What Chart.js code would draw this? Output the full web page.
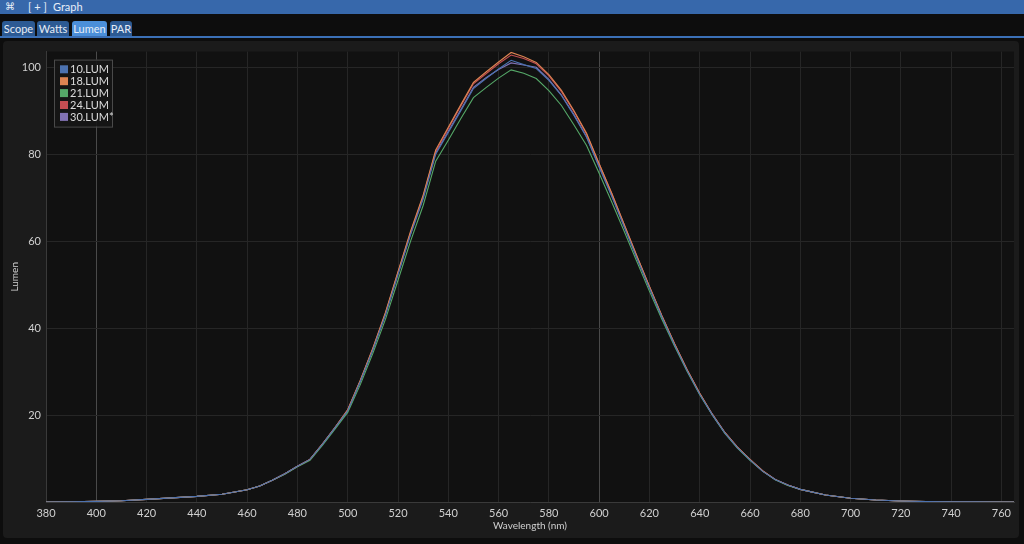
<!DOCTYPE html>
<html>
<head>
<meta charset="utf-8">
<script src="https://cdn.jsdelivr.net/npm/chart.js@4.4.0/dist/chart.umd.min.js"></script>
<style>
  html, body { margin: 0; padding: 0; background: #0d0d0d; width: 1024px; height: 544px; overflow: hidden; font-family: 'Lato', sans-serif; }
  .titlebar { position: absolute; left: 0; top: 0; width: 1024px; height: 14px; background: #3768ab; color: #e8eef8; font-size: 11px; line-height: 14px; }
  .titlebar span { position: absolute; top: 0; }
  .tabs { position: absolute; left: 0; top: 20px; width: 1024px; height: 16px; border-bottom: 2px solid #3b70b6; }
  .tab { position: absolute; top: 1px; height: 15px; line-height: 15px; font-size: 11px; color: #e6ecf5; background: #2c5a93; border-radius: 3px 3px 0 0; text-align: center; }
  .tab.active { background: #4b8fd9; }
  #wrap { position: absolute; left: 0; top: 40px; width: 1024px; height: 504px; }
</style>
</head>
<body>
<div class="titlebar">
  <span style="left:5px;font-family:'DejaVu Sans';font-size:10px">⌘</span>
  <span style="left:28px">[ + ]</span>
  <span style="left:53px">Graph</span>
</div>
<div class="tabs">
  <div class="tab" style="left:2px;width:33px">Scope</div>
  <div class="tab" style="left:37px;width:32px">Watts</div>
  <div class="tab active" style="left:72px;width:35px">Lumen</div>
  <div class="tab" style="left:110px;width:22px">PAR</div>
</div>
<div id="wrap"><canvas id="graph" width="1024" height="504"></canvas></div>
<script>
// wavelengths (nm)
const wavelengths = [380, 390, 400, 410, 420, 430, 440, 450, 460, 465, 470, 475, 480, 485, 490, 495,
  500, 505, 510, 515, 520, 525, 530, 535, 540, 545, 550, 555, 560, 565, 570, 575, 580, 585, 590, 595,
  600, 605, 610, 615, 620, 625, 630, 635, 640, 645, 650, 655, 660, 665, 670, 675, 680, 690, 700, 710,
  720, 730, 740, 750, 760, 765];

const lum10 = [0.0, 0.05, 0.15, 0.3, 0.6, 0.95, 1.3, 1.8, 2.8, 3.7, 5.0, 6.5, 8.2, 9.8, 13.3, 17.1,
  21.0, 27.7, 35.0, 43.0, 52.3, 61.5, 69.7, 80.0, 85.0, 90.0, 95.1, 97.4, 99.6, 101.6, 100.6, 99.7, 97.0, 93.5, 88.9, 83.9,
  77.0, 70.3, 63.2, 56.1, 49.2, 42.5, 36.1, 30.2, 24.8, 20.1, 15.9, 12.5, 9.7, 7.1, 5.2, 3.9, 2.9, 1.6, 0.85, 0.45,
  0.22, 0.1, 0.05, 0.02, 0.0, 0.0];

const lum18 = [0.0, 0.05, 0.15, 0.3, 0.6, 0.95, 1.3, 1.8, 2.8, 3.7, 5.0, 6.5, 8.2, 9.8, 13.4, 17.2,
  21.2, 28.0, 35.4, 43.6, 53.0, 62.3, 70.6, 81.0, 86.2, 91.4, 96.5, 98.9, 101.2, 103.4, 102.4, 101.1, 98.3, 94.7, 90.0, 84.8,
  77.8, 71.0, 63.8, 56.6, 49.6, 42.8, 36.4, 30.4, 25.0, 20.2, 16.0, 12.6, 9.8, 7.2, 5.2, 3.9, 2.9, 1.6, 0.85, 0.45,
  0.22, 0.1, 0.05, 0.02, 0.0, 0.0];

const lum21 = [0.0, 0.05, 0.15, 0.3, 0.6, 0.95, 1.3, 1.8, 2.8, 3.7, 5.0, 6.4, 8.1, 9.6, 13.1, 16.8,
  20.6, 27.0, 34.2, 42.0, 51.0, 60.0, 68.2, 78.4, 83.2, 88.2, 93.0, 95.3, 97.5, 99.4, 98.6, 97.4, 94.6, 91.2, 86.7, 82.0,
  75.6, 69.0, 62.2, 55.3, 48.5, 42.0, 35.8, 30.0, 24.7, 20.0, 15.8, 12.4, 9.6, 7.1, 5.1, 3.8, 2.9, 1.6, 0.85, 0.45,
  0.22, 0.1, 0.05, 0.02, 0.0, 0.0];

const lum24 = [0.0, 0.05, 0.15, 0.3, 0.6, 0.95, 1.3, 1.8, 2.8, 3.7, 5.0, 6.5, 8.2, 9.8, 13.4, 17.2,
  21.2, 27.9, 35.3, 43.4, 52.8, 62.0, 70.3, 80.7, 85.9, 91.1, 96.2, 98.5, 100.8, 102.8, 102.0, 100.8, 98.0, 94.4, 89.8, 84.6,
  77.8, 71.0, 63.8, 56.6, 49.6, 42.8, 36.4, 30.4, 25.0, 20.2, 16.0, 12.6, 9.8, 7.2, 5.2, 3.9, 2.9, 1.6, 0.85, 0.45,
  0.22, 0.1, 0.05, 0.02, 0.0, 0.0];

const lum30 = [0.0, 0.05, 0.15, 0.3, 0.6, 0.95, 1.3, 1.8, 2.8, 3.7, 5.0, 6.5, 8.2, 9.8, 13.3, 17.1,
  21.0, 27.8, 35.1, 43.2, 52.5, 61.7, 70.0, 80.3, 85.3, 90.3, 95.4, 97.6, 99.5, 101.0, 100.5, 100.0, 97.2, 93.6, 89.1, 84.0,
  77.2, 70.5, 63.4, 56.3, 49.4, 42.6, 36.2, 30.3, 24.9, 20.1, 15.9, 12.5, 9.7, 7.1, 5.2, 3.9, 2.9, 1.6, 0.85, 0.45,
  0.22, 0.1, 0.05, 0.02, 0.0, 0.0];

const seriesNames = ['10.LUM', '18.LUM', '21.LUM', '24.LUM', '30.LUM*'];
const seriesColors = ['#4c72b0', '#dd8452', '#55a868', '#c44e52', '#8172b3'];
const xTicks = [380, 400, 420, 440, 460, 480, 500, 520, 540, 560, 580, 600, 620, 640, 660, 680, 700, 720, 740, 760];
const yTicks = [20, 40, 60, 80, 100];
const majorX = [400, 600];

document.addEventListener('DOMContentLoaded', function() {
    const ctx = document.getElementById('graph').getContext('2d');
    const values = [lum10, lum18, lum21, lum24, lum30];

    const datasets = seriesNames.map((name, i) => ({
        label: name,
        data: wavelengths.map((w, j) => ({ x: w, y: values[i][j] })),
        borderColor: seriesColors[i],
        backgroundColor: seriesColors[i],
        borderWidth: 1.1,
        pointRadius: 0,
        tension: 0
    }));

    // frame + plot background
    const framePlugin = {
        id: 'frame',
        beforeDraw(chart) {
            const c = chart.ctx, a = chart.chartArea;
            c.save();
            c.fillStyle = '#1b1b1b';
            c.beginPath();
            c.roundRect(3, 1, 1016, 497, 4);
            c.fill();
            c.fillStyle = '#111111';
            c.fillRect(a.left, a.top, a.right - a.left, a.bottom - a.top);
            c.restore();
        }
    };

    // legend drawn inside the plot, top-left
    const legendPlugin = {
        id: 'innerLegend',
        afterDatasetsDraw(chart) {
            const c = chart.ctx, a = chart.chartArea;
            const x0 = a.left + 8, y0 = a.top + 8;
            const rowH = 11.9;
            c.save();
            c.fillStyle = 'rgba(22,22,22,0.9)';
            c.strokeStyle = '#4a4a4a';
            c.lineWidth = 1;
            c.fillRect(x0, y0, 58, 67);
            c.strokeRect(x0 + 0.5, y0 + 0.5, 58, 67);
            c.font = '11px Lato, sans-serif';
            c.textBaseline = 'middle';
            chart.data.datasets.forEach((ds, i) => {
                const cy = y0 + 9.7 + i * rowH;
                c.fillStyle = ds.borderColor;
                c.fillRect(x0 + 6, cy - 4, 8, 8);
                c.fillStyle = '#dcdcdc';
                c.fillText(ds.label, x0 + 16, cy + 0.5);
            });
            c.restore();
        }
    };

    const chartConfig = {
        type: 'line',
        data: { datasets: datasets },
        options: {
            responsive: false,
            animation: false,
            layout: { padding: { top: 8, right: 10, bottom: 0, left: 0 } },
            plugins: {
                legend: { display: false },
                tooltip: { enabled: false }
            },
            scales: {
                x: {
                    type: 'linear',
                    min: 380,
                    max: 765,
                    afterBuildTicks: function(scale) {
                        scale.ticks = xTicks.map(v => ({ value: v }));
                    },
                    afterFit: function(scale) { scale.height = 42; },
                    grid: {
                        color: function(context) {
                            return majorX.includes(context.tick && context.tick.value) ? '#4a4a4a' : '#262626';
                        },
                        drawTicks: false
                    },
                    border: { color: '#3a3a3a' },
                    ticks: {
                        color: '#d0d0d0',
                        padding: 5,
                        maxRotation: 0,
                        font: { size: 11, family: "'Lato', sans-serif" }
                    },
                    title: {
                        display: true,
                        text: 'Wavelength (nm)',
                        color: '#d0d0d0',
                        padding: { top: 0, bottom: 12 },
                        font: { size: 10, family: "'Lato', sans-serif" }
                    }
                },
                y: {
                    min: 0,
                    max: 103.6,
                    afterBuildTicks: function(scale) {
                        scale.ticks = yTicks.map(v => ({ value: v }));
                    },
                    afterFit: function(scale) { scale.width = 46; },
                    grid: { color: '#262626', drawTicks: false },
                    border: { color: '#3a3a3a' },
                    ticks: {
                        color: '#d0d0d0',
                        padding: 5,
                        font: { size: 11, family: "'Lato', sans-serif" }
                    },
                    title: {
                        display: true,
                        text: 'Lumen',
                        color: '#d0d0d0',
                        padding: { top: 9, bottom: 0 },
                        font: { size: 10, family: "'Lato', sans-serif" }
                    }
                }
            }
        },
        plugins: [framePlugin, legendPlugin]
    };

    new Chart(ctx, chartConfig);
});
</script>
</body>
</html>
